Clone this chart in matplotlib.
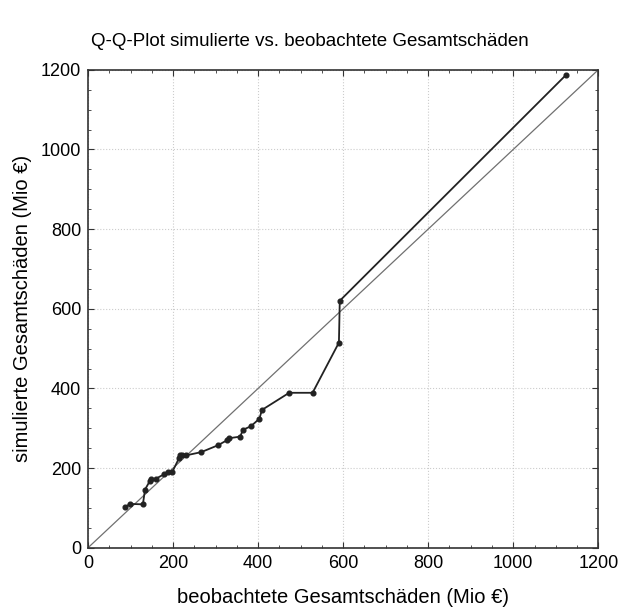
import matplotlib
matplotlib.use("Agg")
import matplotlib.pyplot as plt
from matplotlib.ticker import MultipleLocator

plt.rcParams['font.family'] = ['Liberation Sans', 'DejaVu Sans']

# beobachtete vs. simulierte Gesamtschäden (Mio €)
beobachtet = [88, 98, 129, 134, 145, 149, 159, 178, 188, 198, 214, 216, 221, 231,
              266, 305, 327, 332, 358, 364, 383, 403, 409, 473, 528, 590, 592, 1125]
simuliert = [102, 110, 109, 146, 167, 172, 173, 184, 189, 190, 225, 233, 232, 232,
             240, 257, 270, 275, 279, 296, 305, 324, 346, 389, 389, 515, 620, 1188]

fig = plt.figure(figsize=(6.2, 6.12), dpi=100)
ax = fig.add_axes([0.142, 0.105, 0.823, 0.781])

ax.plot([0, 1200], [0, 1200], color='#707070', lw=0.9, zorder=2)
ax.plot(beobachtet, simuliert, color='#222222', lw=1.3, marker='o', ms=3.4, zorder=3)

ax.set_xlim(0, 1200)
ax.set_ylim(0, 1200)
ax.xaxis.set_major_locator(MultipleLocator(200))
ax.yaxis.set_major_locator(MultipleLocator(200))
ax.xaxis.set_minor_locator(MultipleLocator(50))
ax.yaxis.set_minor_locator(MultipleLocator(50))
ax.tick_params(which='both', direction='in', top=True, right=True, labelsize=13, color='#333333')
ax.tick_params(which='major', length=4, pad=5)
ax.tick_params(which='minor', length=2)
ax.grid(True, which='major', color='#cccccc', ls=':', lw=0.8)
for s in ax.spines.values():
    s.set_color('#333333')
    s.set_linewidth(1.2)

ax.set_xlabel('beobachtete Gesamtschäden (Mio €)', fontsize=14.5, labelpad=12)
ax.set_ylabel('simulierte Gesamtschäden (Mio €)', fontsize=14.5, labelpad=6)
fig.text(0.5, 0.925, 'Q-Q-Plot simulierte vs. beobachtete Gesamtschäden', ha='center', fontsize=13.5)

fig.savefig('out.png', dpi=100)
